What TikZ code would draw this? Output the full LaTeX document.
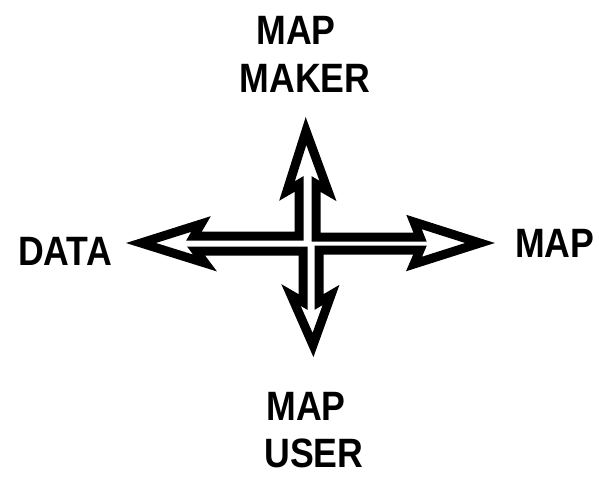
\documentclass[tikz,border=0pt]{standalone}
\usepackage{fontspec}
\newfontfamily\labelfont{Liberation Sans}
\tikzset{
  lbl/.style={font=\labelfont\bfseries\fontsize{41}{48}\selectfont, xscale=0.87, inner sep=0pt, anchor=base},
  cross/.style={line width=9pt, line join=miter, miter limit=10, draw=black, fill=white}
}
\begin{document}
\begin{tikzpicture}[x=1pt,y=-1pt]
	\useasboundingbox (0,0) rectangle (599,476);
	% four-headed arrow, one outline
	\draw [cross] (306,131) -- (328,191) -- (316,184) -- (316,237)
		-- (420,237) -- (414,222) -- (480,243) -- (414,264) -- (420,250)
		-- (319,250) -- (319,302) -- (331,295) -- (313,345) -- (291,295) -- (303,302)
		-- (303,251) -- (196,251) -- (205,263) -- (141,243) -- (201,224) -- (194,236)
		-- (299,236) -- (299,184) -- (287,191) -- cycle;
	% labels
	\node [lbl] (mapmaker1) at (296,45) {MAP};
	\node [lbl] (mapmaker2) at (305,93) {MAKER};
	\node [lbl] (data) at (65,265) {DATA};
	\node [lbl, anchor=base west] (map) at (515,257) {MAP};
	\node [lbl] (mapuser1) at (306,420) {MAP};
	\node [lbl] (mapuser2) at (314,467) {USER};
\end{tikzpicture}
\end{document}
